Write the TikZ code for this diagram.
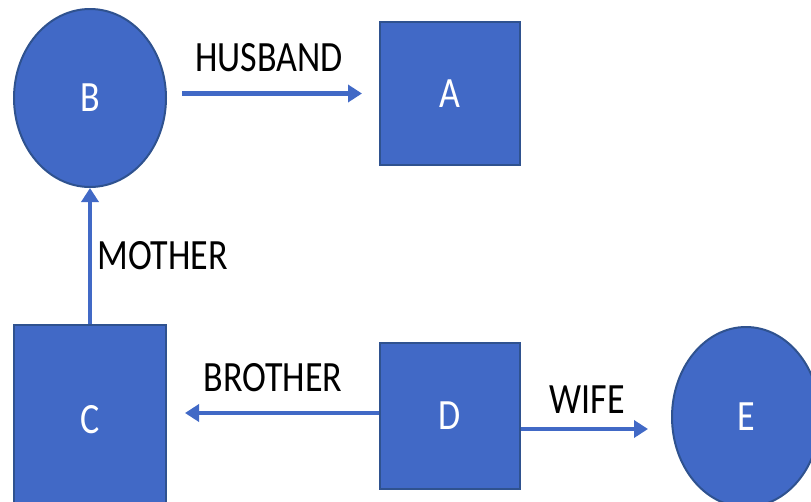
\documentclass[tikz,border=0pt]{standalone}
\usepackage{fontspec}
\usepackage{graphicx}
\setmainfont{Carlito}
\usetikzlibrary{shapes.geometric,arrows.meta}
\definecolor{relleno}{HTML}{4169C6}
\definecolor{borde}{HTML}{2F528F}
% texto algo estirado en vertical
\newcommand{\alto}[1]{\scalebox{1}[1.2]{#1}}

\begin{document}
\begin{tikzpicture}[x=1pt,y=-1pt,
    caja/.style={draw=borde,line width=2pt,fill=relleno,text=white,inner sep=0pt},
    flecha/.style={draw=relleno,line width=4.5pt,-{Triangle[length=14pt,width=17pt]}},
    etiqueta/.style={text=black,inner sep=1pt},
    font=\fontsize{36}{40}\selectfont]
    % Marco de la figura
    \useasboundingbox (0,0) rectangle (811,501);

    % Nodos
    \node[caja,ellipse,minimum width=152pt,minimum height=178pt] (B) at (90,98) {\alto{B}};
    \node[caja,rectangle,minimum width=140pt,minimum height=143pt] (A) at (450,93.5) {\alto{A}};
    \node[caja,rectangle,minimum width=152pt,minimum height=190pt] (C) at (90,420) {\alto{C}};
    \node[caja,rectangle,minimum width=140pt,minimum height=146pt] (D) at (450,415.5) {\alto{D}};
    \node[caja,ellipse,minimum width=148pt,minimum height=180pt] (E) at (746,417) {\alto{E}};

    % Relaciones
    \draw[flecha,shorten <=15pt,shorten >=17pt] (B.east |- A.west) -- (A.west)
        node[etiqueta,pos=0.48,yshift=36pt] {\alto{HUSBAND}};
    \draw[flecha] (C.north) -- (B.south)
        node[etiqueta,midway,anchor=west,xshift=4pt] {\alto{MOTHER}};
    \draw[flecha,shorten >=18pt] ([yshift=2.5pt]D.west) -- ([yshift=2.5pt]D.west -| C.east)
        node[etiqueta,midway,yshift=35pt] {\alto{BROTHER}};
    \draw[flecha,shorten >=23pt] ([yshift=-13.5pt]D.east) -- ([yshift=-13.5pt]D.east -| E.west)
        node[etiqueta,pos=0.44,yshift=29pt] {\alto{WIFE}};
\end{tikzpicture}
\end{document}
